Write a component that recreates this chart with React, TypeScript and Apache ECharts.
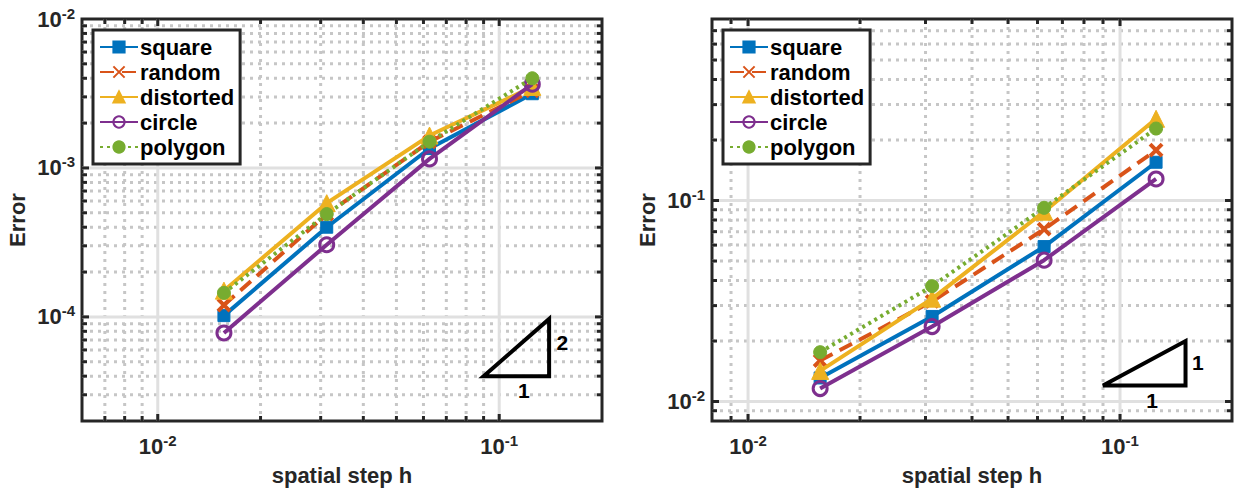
import React, { useEffect, useRef } from "react";
import * as echarts from "echarts";

// ---------- data ----------
const H = [1 / 64, 1 / 32, 1 / 16, 1 / 8];
const NAMES = ["square", "random", "distorted", "circle", "polygon"];

// left panel (second-order convergence)
const L_SQUARE = [1.02e-4, 4.0e-4, 1.35e-3, 3.15e-3];
const L_RANDOM = [1.2e-4, 4.9e-4, 1.5e-3, 3.3e-3];
const L_DISTORTED = [1.5e-4, 5.8e-4, 1.65e-3, 3.5e-3];
const L_CIRCLE = [7.8e-5, 3.05e-4, 1.15e-3, 3.65e-3];
const L_POLYGON = [1.45e-4, 4.9e-4, 1.5e-3, 4.0e-3];

// right panel (first-order convergence)
const R_SQUARE = [1.31e-2, 2.65e-2, 5.9e-2, 0.155];
const R_RANDOM = [1.6e-2, 3.15e-2, 7.2e-2, 0.178];
const R_DISTORTED = [1.42e-2, 3.25e-2, 8.8e-2, 0.255];
const R_CIRCLE = [1.16e-2, 2.36e-2, 5.05e-2, 0.128];
const R_POLYGON = [1.76e-2, 3.75e-2, 9.2e-2, 0.228];

// axis ranges
const L_X_RANGE = [0.006, 0.2];
const L_Y_RANGE = [2e-5, 1e-2];
const R_X_RANGE = [0.008, 0.2];
const R_Y_RANGE = [0.008, 0.8];

// slope triangles (vertices) and their labels
const L_TRI = [[0.09, 4e-5], [0.14, 4e-5], [0.14, 9.68e-5]];
const L_TRI_LABELS = [
  { text: "2", x: 0.153, y: 6.7e-5 },
  { text: "1", x: 0.118, y: 3.19e-5 },
];
const R_TRI = [[0.09, 0.012], [0.15, 0.012], [0.15, 0.02]];
const R_TRI_LABELS = [
  { text: "1", x: 0.162, y: 0.01555 },
  { text: "1", x: 0.122, y: 0.01017 },
];

// ---------- styling ----------
const FONT = '"Liberation Sans", Arial, Helvetica, sans-serif';
const AX = "#262626";
const COLORS = ["#0072BD", "#D95319", "#EDB120", "#7E2F8E", "#77AC30"];
const X_PATH = "path://M0,0L10,10M0,10L10,0";

function logTicks(min: number, max: number) {
  const major: number[] = [];
  const minor: number[] = [];
  const e0 = Math.floor(Math.log10(min));
  const e1 = Math.ceil(Math.log10(max));
  for (let e = e0; e <= e1; e++) {
    for (let m = 1; m <= 9; m++) {
      const v = m * Math.pow(10, e);
      if (v > min * 1.0001 && v < max * 0.9999) (m === 1 ? major : minor).push(v);
    }
  }
  return { major, minor };
}

function frameRenderer(xr: number[], yr: number[]) {
  return (params: any, api: any) => {
    const cs = params.coordSys;
    const x0 = cs.x, y0 = cs.y, x1 = cs.x + cs.width, y1 = cs.y + cs.height;
    const xt = logTicks(xr[0], xr[1]);
    const yt = logTicks(yr[0], yr[1]);
    const ch: any[] = [];
    const minorStyle = { stroke: "#c6c6c6", lineWidth: 3, lineDash: [3, 5], fill: null };
    const majorStyle = { stroke: "#e0e0e0", lineWidth: 3, fill: null };
    const tickStyle = { stroke: AX, lineWidth: 3, fill: null };
    xt.minor.forEach((v) => {
      const px = api.coord([v, yr[0]])[0];
      ch.push({ type: "line", shape: { x1: px, y1: y0, x2: px, y2: y1 }, style: minorStyle });
    });
    yt.minor.forEach((v) => {
      const py = api.coord([xr[0], v])[1];
      ch.push({ type: "line", shape: { x1: x0, y1: py, x2: x1, y2: py }, style: minorStyle });
    });
    xt.major.forEach((v) => {
      const px = api.coord([v, yr[0]])[0];
      ch.push({ type: "line", shape: { x1: px, y1: y0, x2: px, y2: y1 }, style: majorStyle });
    });
    yt.major.forEach((v) => {
      const py = api.coord([xr[0], v])[1];
      ch.push({ type: "line", shape: { x1: x0, y1: py, x2: x1, y2: py }, style: majorStyle });
    });
    const addX = (v: number, len: number) => {
      const px = api.coord([v, yr[0]])[0];
      ch.push({ type: "line", shape: { x1: px, y1: y1, x2: px, y2: y1 - len }, style: tickStyle });
      ch.push({ type: "line", shape: { x1: px, y1: y0, x2: px, y2: y0 + len }, style: tickStyle });
    };
    const addY = (v: number, len: number) => {
      const py = api.coord([xr[0], v])[1];
      ch.push({ type: "line", shape: { x1: x0, y1: py, x2: x0 + len, y2: py }, style: tickStyle });
      ch.push({ type: "line", shape: { x1: x1, y1: py, x2: x1 - len, y2: py }, style: tickStyle });
    };
    xt.minor.forEach((v) => addX(v, 5));
    xt.major.forEach((v) => addX(v, 7));
    yt.minor.forEach((v) => addY(v, 5));
    yt.major.forEach((v) => addY(v, 7));
    return { type: "group", children: ch };
  };
}

function triangleRenderer(tri: number[][], labels: { text: string; x: number; y: number }[]) {
  return (params: any, api: any) => {
    const pts = tri.map((p) => api.coord(p));
    const ch: any[] = [
      {
        type: "polygon",
        shape: { points: pts },
        style: { stroke: "#000", lineWidth: 4, fill: null, lineJoin: "miter" },
      },
    ];
    labels.forEach((l) => {
      const p = api.coord([l.x, l.y]);
      ch.push({
        type: "text",
        x: p[0],
        y: p[1],
        style: {
          text: l.text,
          fill: "#000",
          fontSize: 21,
          fontWeight: "bold",
          fontFamily: FONT,
          align: "center",
          verticalAlign: "middle",
        },
      });
    });
    return { type: "group", children: ch };
  };
}

function tickFormatter(v: number) {
  const e = Math.log10(v);
  if (Math.abs(e - Math.round(e)) > 1e-6) return "";
  return `{b|10}{s|${Math.round(e)}}`;
}

const RICH = {
  b: { fontSize: 22, fontWeight: "bold", color: AX, fontFamily: FONT },
  s: { fontSize: 15, fontWeight: "bold", color: AX, fontFamily: FONT, padding: [0, 0, 12, 0] },
};

const NAME_STYLE = { fontSize: 22, fontWeight: "bold", color: AX, fontFamily: FONT };

function seriesFor(gi: number, values: number[][]) {
  const styles = [
    { symbol: "rect", symbolSize: 12, type: "solid" },
    { symbol: X_PATH, symbolSize: 12, type: [14, 8] },
    { symbol: "triangle", symbolSize: 17, type: "solid" },
    { symbol: "circle", symbolSize: 14, type: "solid" },
    { symbol: "circle", symbolSize: 13, type: [3, 4] },
  ];
  return values.map((vals, i) => ({
    type: "line",
    name: NAMES[i],
    xAxisIndex: gi,
    yAxisIndex: gi,
    data: H.map((h, k) => [h, vals[k]]),
    symbol: styles[i].symbol,
    symbolSize: styles[i].symbolSize,
    showAllSymbol: true,
    lineStyle: { color: COLORS[i], width: 4, type: styles[i].type },
    itemStyle: {
      color: i === 3 ? "rgba(255,255,255,0)" : COLORS[i],
      borderColor: COLORS[i],
      borderWidth: i === 1 ? 4 : i === 3 ? 3 : 1,
    },
    z: 3 + i,
  }));
}

function legendFor(left: number) {
  return {
    data: NAMES,
    orient: "vertical",
    left,
    top: 30,
    backgroundColor: "#fff",
    borderColor: AX,
    borderWidth: 3,
    borderRadius: 0,
    padding: [6, 6, 6, 6],
    itemGap: 3,
    itemWidth: 38,
    itemHeight: 14,
    selectedMode: false,
    textStyle: { fontSize: 22, fontWeight: "bold", color: "#000", fontFamily: FONT, padding: [0, 0, 0, -3] },
  };
}

function xAxisFor(gi: number, r: number[]) {
  return {
    type: "log",
    logBase: 10,
    gridIndex: gi,
    min: r[0],
    max: r[1],
    axisLine: { show: false },
    axisTick: { show: false },
    minorTick: { show: false },
    splitLine: { show: false },
    axisLabel: { formatter: tickFormatter, rich: RICH, margin: 12, showMinLabel: false, showMaxLabel: false },
    name: "spatial step h",
    nameLocation: "middle",
    nameGap: 43,
    nameTextStyle: NAME_STYLE,
  };
}

function yAxisFor(gi: number, r: number[]) {
  return {
    type: "log",
    logBase: 10,
    gridIndex: gi,
    min: r[0],
    max: r[1],
    axisLine: { show: false },
    axisTick: { show: false },
    minorTick: { show: false },
    splitLine: { show: false },
    axisLabel: { formatter: tickFormatter, rich: RICH, margin: 7 },
    name: "Error",
    nameLocation: "middle",
    nameGap: 54,
    nameRotate: 90,
    nameTextStyle: NAME_STYLE,
  };
}

export default function App() {
  const ref = useRef<HTMLDivElement>(null);
  useEffect(() => {
    if (!ref.current) return;
    const chart = echarts.init(ref.current, undefined, { renderer: "svg" });
    const gridBase = { width: 520, height: 402, top: 19, show: true, borderColor: AX, borderWidth: 3, backgroundColor: "#fff" };
    const option: any = {
      animation: false,
      backgroundColor: "#fff",
      textStyle: { fontFamily: FONT },
      grid: [
        { ...gridBase, left: 82 },
        { ...gridBase, left: 712 },
      ],
      xAxis: [xAxisFor(0, L_X_RANGE), xAxisFor(1, R_X_RANGE)],
      yAxis: [yAxisFor(0, L_Y_RANGE), yAxisFor(1, R_Y_RANGE)],
      legend: [legendFor(93), legendFor(723)],
      series: [
        {
          type: "custom",
          xAxisIndex: 0,
          yAxisIndex: 0,
          silent: true,
          z: 1,
          data: [[0.01, 1e-3]],
          renderItem: frameRenderer(L_X_RANGE, L_Y_RANGE),
        },
        {
          type: "custom",
          xAxisIndex: 1,
          yAxisIndex: 1,
          silent: true,
          z: 1,
          data: [[0.01, 0.1]],
          renderItem: frameRenderer(R_X_RANGE, R_Y_RANGE),
        },
        ...seriesFor(0, [L_SQUARE, L_RANDOM, L_DISTORTED, L_CIRCLE, L_POLYGON]),
        ...seriesFor(1, [R_SQUARE, R_RANDOM, R_DISTORTED, R_CIRCLE, R_POLYGON]),
        {
          type: "custom",
          xAxisIndex: 0,
          yAxisIndex: 0,
          silent: true,
          z: 10,
          data: [[0.1, 5e-5]],
          renderItem: triangleRenderer(L_TRI, L_TRI_LABELS),
        },
        {
          type: "custom",
          xAxisIndex: 1,
          yAxisIndex: 1,
          silent: true,
          z: 10,
          data: [[0.1, 0.015]],
          renderItem: triangleRenderer(R_TRI, R_TRI_LABELS),
        },
      ],
    };
    chart.setOption(option);
    return () => chart.dispose();
  }, []);
  return (
    <div
      ref={ref}
      style={{ position: "fixed", left: 0, top: 0, width: 1238, height: 493, background: "#fff" }}
    />
  );
}
